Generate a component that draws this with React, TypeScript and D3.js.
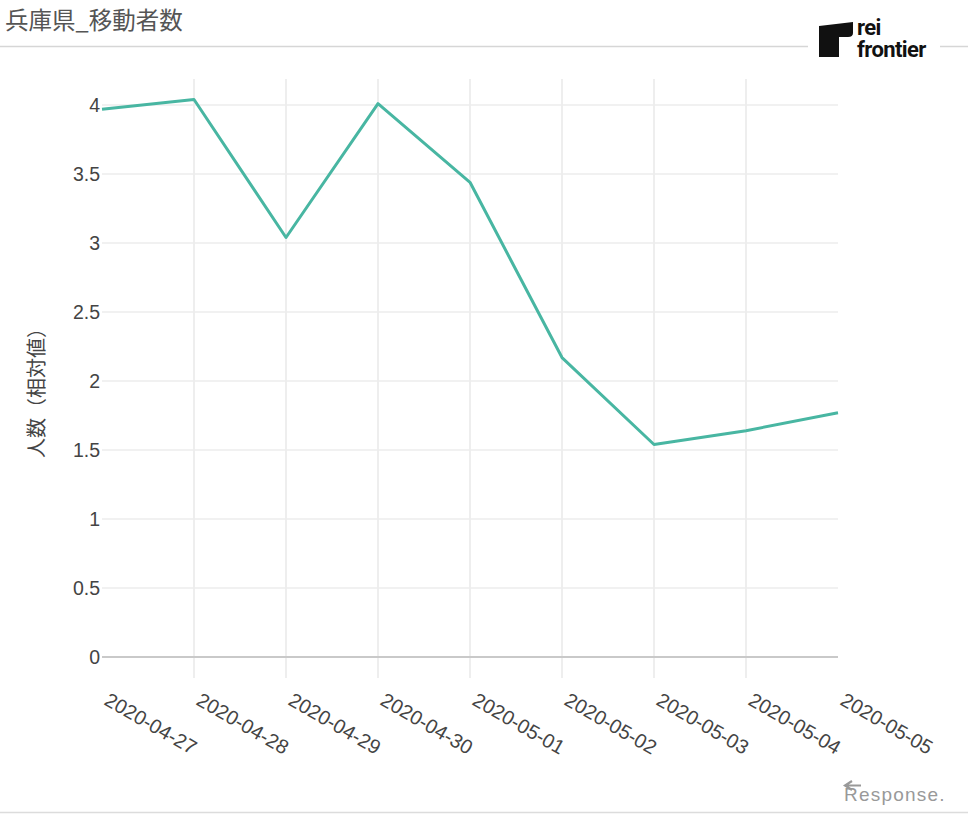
import React from "react";
import * as d3 from "d3";

const dates = [
  "2020-04-27", "2020-04-28", "2020-04-29", "2020-04-30", "2020-05-01",
  "2020-05-02", "2020-05-03", "2020-05-04", "2020-05-05",
];
const values = [3.97, 4.04, 3.04, 4.01, 3.44, 2.17, 1.54, 1.64, 1.77];
const yTicks = [0, 0.5, 1, 1.5, 2, 2.5, 3, 3.5, 4];
const yTickLabels = ["0", "0.5", "1", "1.5", "2", "2.5", "3", "3.5", "4"];
const title = "兵庫県_移動者数";
const yLabel = "人数（相対値）";

const W = 968;
const H = 814;
const FONT = "'Liberation Sans', Arial, 'Noto Sans CJK JP', sans-serif";

export default function App() {
  const x = d3.scalePoint<string>().domain(dates).range([102, 838]);
  const y = d3.scaleLinear().domain([0, 4]).range([657, 105]);
  const line = d3
    .line<number>()
    .x((_, i) => x(dates[i]) as number)
    .y((d) => y(d));

  return (
    <svg
      width={W}
      height={H}
      style={{ position: "absolute", left: 0, top: 0, background: "#fff" }}
      fontFamily={FONT}
    >
      <rect x={0} y={0} width={W} height={H} fill="#fff" />
      {/* title */}
      <text x={5} y={29} fontSize={23.5} fill="#555" fontFamily="'Noto Sans CJK JP', sans-serif">
        {title}
      </text>
      <line x1={0} x2={808} y1={46.5} y2={46.5} stroke="#d6d6d6" strokeWidth={1.5} />
      <line x1={940} x2={W} y1={46.5} y2={46.5} stroke="#d6d6d6" strokeWidth={1.5} />

      {/* logo */}
      <path
        d="M819,26 L853,22 L853,33 Q853,37 848,37 L839,37 L839,57 L819,57 Z"
        fill="#111"
      />
      <text x={857} y={35} fontSize={22} fontWeight={700} fill="#111" letterSpacing={-0.6} fontFamily="Roboto, 'Liberation Sans', sans-serif">
        rei
      </text>
      <text x={857} y={57} fontSize={22} fontWeight={700} fill="#111" letterSpacing={-0.6} fontFamily="Roboto, 'Liberation Sans', sans-serif">
        frontier
      </text>

      {/* vertical grid */}
      {dates.slice(1, -1).map((d) => (
        <line
          key={d}
          x1={x(d)}
          x2={x(d)}
          y1={79}
          y2={678}
          stroke="#e9e9e9"
          strokeWidth={1.5}
        />
      ))}
      {/* horizontal grid */}
      {yTicks.map((t, i) => (
        <g key={t}>
          <line
            x1={102}
            x2={838}
            y1={y(t)}
            y2={y(t)}
            stroke={t === 0 ? "#c9c9c9" : "#ececec"}
            strokeWidth={t === 0 ? 2 : 1.5}
          />
          <text
            x={100}
            y={y(t)}
            dy="0.35em"
            textAnchor="end"
            fontSize={19.5}
            fill="#444"
          >
            {yTickLabels[i]}
          </text>
        </g>
      ))}

      {/* x tick labels */}
      {dates.map((d) => (
        <text
          key={d}
          transform={`translate(${(x(d) as number) + 1},704) rotate(30)`}
          fontSize={20}
          fill="#444"
        >
          {d}
        </text>
      ))}

      {/* y label */}
      <text
        transform="translate(44,388) rotate(-90)"
        textAnchor="middle"
        fontSize={20}
        fill="#444"
        fontFamily="'Noto Sans CJK JP', sans-serif"
      >
        {yLabel}
      </text>

      {/* data line */}
      <path d={line(values) || ""} fill="none" stroke="#48b6a2" strokeWidth={3} strokeLinejoin="round" />

      {/* response logo */}
      <path d="M852,781 L845,785.5 L852,790 M846,785.5 L861,785.5" stroke="#999" strokeWidth={2.2} fill="none" />
      <text x={844} y={801} fontSize={19} fill="#999" letterSpacing={1.2}>
        Response.
      </text>
      <line x1={0} x2={W} y1={812.5} y2={812.5} stroke="#dcdcdc" strokeWidth={1.5} />
    </svg>
  );
}
